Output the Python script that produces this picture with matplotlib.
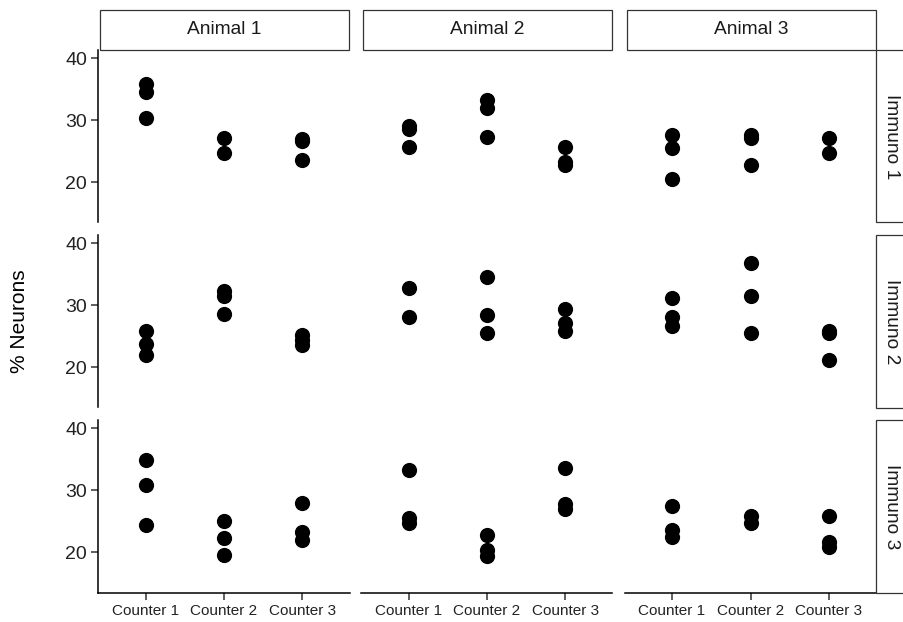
import matplotlib.pyplot as plt
from matplotlib.patches import Rectangle

plt.rcParams['font.family'] = ['Liberation Sans', 'DejaVu Sans']

animals = ['Animal 1', 'Animal 2', 'Animal 3']
immunos = ['Immuno 1', 'Immuno 2', 'Immuno 3']
counters = ['Counter 1', 'Counter 2', 'Counter 3']

# % neurons per animal, then per counter
immuno1 = [
    [[35.8, 34.6, 30.4], [27.1, 24.7], [27.0, 26.6, 23.5]],
    [[29.0, 28.6, 25.6], [33.3, 31.9, 27.2], [25.6, 23.2, 22.8]],
    [[27.6, 25.5, 20.5], [27.6, 27.1, 22.8], [27.1, 24.7]],
]
immuno2 = [
    [[25.8, 23.8, 21.9], [32.2, 31.4, 28.6], [25.2, 24.4, 23.5]],
    [[32.7, 28.1], [34.6, 28.4, 25.5], [29.4, 27.1, 25.9]],
    [[31.2, 28.1, 26.6], [36.8, 31.5, 25.5], [25.8, 25.5, 21.1]],
]
immuno3 = [
    [[34.8, 30.9, 24.3], [25.1, 22.3, 19.6], [27.9, 23.2, 21.9]],
    [[33.3, 25.5, 24.7], [22.7, 20.4, 19.4], [33.5, 27.7, 26.9]],
    [[27.4, 23.5, 22.5], [25.9, 24.7], [25.9, 21.7, 20.9]],
]
all_values = [immuno1, immuno2, immuno3]

W, H = 904, 622
fig = plt.figure(figsize=(W / 100, H / 100), dpi=100)

col_left = [98.5, 361.5, 625]
row_top = [50, 235, 420]
pw, ph = 251, 172.5
strip = 39

for r in range(3):
    for c in range(3):
        ax = fig.add_axes([col_left[c] / W, 1 - (row_top[r] + ph) / H, pw / W, ph / H])
        for k in range(3):
            ys = all_values[r][c][k]
            ax.scatter([k + 1] * len(ys), ys, s=120, color='black', linewidths=0, zorder=3)
        ax.set_xlim(0.4, 3.6)
        ax.set_ylim(13.5, 41.3)
        ax.set_yticks([20, 30, 40])
        ax.set_xticks([1, 2, 3])
        for s in ['top', 'right']:
            ax.spines[s].set_visible(False)
        ax.spines['left'].set_linewidth(1.1)
        ax.spines['bottom'].set_linewidth(1.1)
        ax.tick_params(length=4.7, width=1.1, color='#333333')
        if c == 0:
            ax.set_yticklabels(['20', '30', '40'], fontsize=14, color='#222222')
        else:
            ax.spines['left'].set_visible(False)
            ax.tick_params(axis='y', left=False, labelleft=False)
        if r == 2:
            ax.set_xticklabels(counters, fontsize=11, color='#222222')
        else:
            ax.spines['bottom'].set_visible(False)
            ax.tick_params(axis='x', bottom=False, labelbottom=False)

# top strips
for c in range(3):
    x0 = col_left[c] + 1.5
    rect = Rectangle((x0 / W, 1 - (row_top[0] - 0.5) / H), (pw - 2) / W, strip / H,
                     transform=fig.transFigure, facecolor='white', edgecolor='#333333', lw=0.9)
    fig.patches.append(rect)
    fig.text((x0 + (pw - 2) / 2) / W, 1 - (row_top[0] - 0.5 - strip / 2) / H, animals[c],
             ha='center', va='center', fontsize=13.8, color='#1a1a1a')

# right strips
for r in range(3):
    x0 = col_left[2] + pw + 0.5
    rect = Rectangle((x0 / W, 1 - (row_top[r] + ph) / H), strip / W, ph / H,
                     transform=fig.transFigure, facecolor='white', edgecolor='#333333', lw=0.9)
    fig.patches.append(rect)
    fig.text(892 / W, 1 - (row_top[r] + ph / 2) / H, immunos[r],
             ha='center', va='center', rotation=-90, fontsize=13.8, color='#1a1a1a')

fig.text(20 / W, 1 - 321 / H, '% Neurons', rotation=90, ha='center', va='center', fontsize=15)

fig.savefig('out.png', dpi=100)
